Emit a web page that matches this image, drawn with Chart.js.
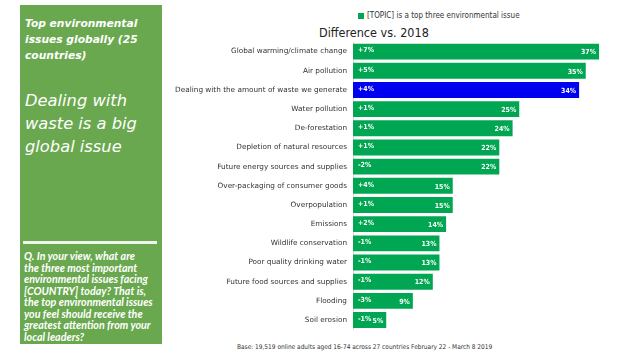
<!DOCTYPE html>
<html>
<head>
<meta charset="utf-8">
<script src="https://cdn.jsdelivr.net/npm/chart.js@4"></script>
<style>
  body { margin: 0; width: 619px; height: 353px; background: #fff; position: relative; overflow: hidden; font-family: "DejaVu Sans Condensed", "DejaVu Sans", sans-serif; }
  #panel { position: absolute; left: 20px; top: 5px; width: 142px; height: 339px; background: #6aa84f; color: #fff; }
  #panel .head { position: absolute; left: 5px; top: 11px; font: oblique bold 10.7px "DejaVu Sans", sans-serif; line-height: 16px; }
  #panel .big { position: absolute; left: 5px; top: 84px; font: oblique 16.3px "DejaVu Sans", sans-serif; line-height: 23px; }
  #panel .rule { position: absolute; left: 3px; top: 236px; width: 134px; height: 3px; background: #eef5ea; }
  #panel .q { position: absolute; left: 4px; top: 245px; font: italic bold 10.7px Lato, sans-serif; line-height: 11.5px; }
  #legend { position: absolute; left: 358px; top: 11px; font-size: 8px; color: #333; white-space: nowrap; }
  #legend span { display: inline-block; width: 6px; height: 6px; background: #00a651; margin-right: 3px; vertical-align: -0.5px; }
  #subtitle { position: absolute; left: 319px; top: 25px; font: 12.5px "DejaVu Sans Condensed", sans-serif; color: #222; }
  #base { position: absolute; left: 237px; top: 343px; font-size: 6.5px; color: #333; white-space: nowrap; }
  #wrap { position: absolute; left: 160px; top: 0; width: 459px; height: 340px; }
</style>
</head>
<body>
<div id="panel">
  <div class="head">Top environmental<br>issues globally (25<br>countries)</div>
  <div class="big">Dealing with<br>waste is a big<br>global issue</div>
  <div class="rule"></div>
  <div class="q">Q. In your view, what are<br>the three most important<br>environmental issues facing<br>[COUNTRY] today? That is,<br>the top environmental issues<br>you feel should receive the<br>greatest attention from your<br>local leaders?</div>
</div>
<div id="legend"><span></span>[TOPIC] is a top three environmental issue</div>
<div id="subtitle">Difference vs. 2018</div>
<div id="wrap"><canvas id="chart"></canvas></div>
<div id="base">Base: 19,519 online adults aged 16-74 across 27 countries February 22 - March 8 2019</div>
<script>
var issues = [
  "Global warming/climate change",
  "Air pollution",
  "Dealing with the amount of waste we generate",
  "Water pollution",
  "De-forestation",
  "Depletion of natural resources",
  "Future energy sources and supplies",
  "Over-packaging of consumer goods",
  "Overpopulation",
  "Emissions",
  "Wildlife conservation",
  "Poor quality drinking water",
  "Future food sources and supplies",
  "Flooding",
  "Soil erosion"
];
var shares = [37, 35, 34, 25, 24, 22, 22, 15, 15, 14, 13, 13, 12, 9, 5];
var changes = ["+7%", "+5%", "+4%", "+1%", "+1%", "+1%", "-2%", "+4%", "+1%", "+2%", "-1%", "-1%", "-1%", "-3%", "-1%"];
var highlight = "Dealing with the amount of waste we generate";

var barColors = issues.map(function (name) {
  return name == highlight ? "#0000f0" : "#00a651";
});

// writes the change vs 2018 at the bar start and the share at the bar end
var barText = {
  id: "barText",
  afterDatasetsDraw: function (chart) {
    var ctx = chart.ctx;
    var bars = chart.getDatasetMeta(0).data;
    ctx.save();
    ctx.fillStyle = "#fff";
    ctx.font = "bold 7px 'DejaVu Sans Condensed', sans-serif";
    ctx.textBaseline = "middle";
    bars.forEach(function (bar, i) {
      ctx.textAlign = "left";
      ctx.fillText(changes[i], bar.base + 5, bar.y - 1);
      ctx.textAlign = "right";
      ctx.fillText(shares[i] + "%", bar.x - 3, bar.y + 1);
    });
    ctx.restore();
  }
};

var ctx = document.getElementById("chart").getContext("2d");
var chart = new Chart(ctx, {
  type: "bar",
  data: {
    labels: issues,
    datasets: [{
      label: "[TOPIC] is a top three environmental issue",
      data: shares,
      backgroundColor: barColors,
      barPercentage: 0.83,
      categoryPercentage: 1
    }]
  },
  options: {
    indexAxis: "y",
    responsive: true,
    maintainAspectRatio: false,
    animation: false,
    layout: { padding: { top: 42, bottom: 9, left: 0, right: 0 } },
    scales: {
      x: { min: 0, max: 40, display: false },
      y: {
        grid: { display: false, drawTicks: false },
        border: { display: true, color: "#d8d8d8", width: 1 },
        ticks: { color: "#333", padding: 6, font: { family: "'DejaVu Sans', sans-serif", size: 7.3 } },
        afterFit: function (scale) { scale.width = 193; }
      }
    },
    plugins: {
      legend: { display: false },
      tooltip: { enabled: false }
    }
  },
  plugins: [barText]
});
</script>
</body>
</html>
